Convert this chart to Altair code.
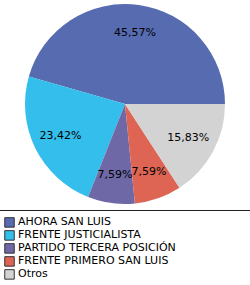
import math
import altair as alt
import pandas as pd

partidos = ["AHORA SAN LUIS", "FRENTE JUSTICIALISTA", "PARTIDO TERCERA POSICIÓN",
            "FRENTE PRIMERO SAN LUIS", "Otros"]
valores = [45.57, 23.42, 7.59, 7.59, 15.83]
colores = ["#566BB0", "#34BEEC", "#6F68A7", "#DE6454", "#D3D3D3"]

df = pd.DataFrame({
    "partido": partidos,
    "valor": valores,
    "idx": list(range(len(partidos))),
    "etiqueta": [f"{v:.2f}%".replace(".", ",") for v in valores],
})

theta = alt.Theta("valor:Q", stack=True,
                  scale=alt.Scale(range=[math.pi / 2, math.pi / 2 + 2 * math.pi]))
order = alt.Order("idx:Q", sort="descending")

color = alt.Color(
    "partido:N",
    scale=alt.Scale(domain=partidos, range=colores),
    legend=alt.Legend(
        title=None, orient="none", legendX=4, legendY=216,
        symbolType="square", symbolSize=90, symbolStrokeColor="#333333",
        symbolStrokeWidth=1, symbolOpacity=1,
        labelFont="DejaVu Sans", labelFontSize=11, labelColor="#000000",
        labelOffset=3, rowPadding=0, clipHeight=12.8,
    ),
)

arcs = alt.Chart(df).mark_arc(outerRadius=100, strokeWidth=0).encode(
    theta=theta, order=order, color=color,
    x=alt.value(125), y=alt.value(104),
)

text = alt.Chart(df).mark_text(radius=72, font="DejaVu Sans", fontSize=11,
                               color="#000000").encode(
    theta=theta, order=order, text="etiqueta:N",
    x=alt.value(125), y=alt.value(104),
)

rule = alt.Chart(df).mark_rule(color="#222222", strokeWidth=1).encode(
    x=alt.value(0), x2=alt.value(250), y=alt.value(210.5),
)

chart = alt.layer(arcs, text, rule).properties(
    width=250, height=285, padding=0, autosize=alt.AutoSizeParams(type="none"),
    background="white",
).configure_view(stroke=None)

chart.save("out.html", embed_options={"renderer": "svg", "actions": False})
